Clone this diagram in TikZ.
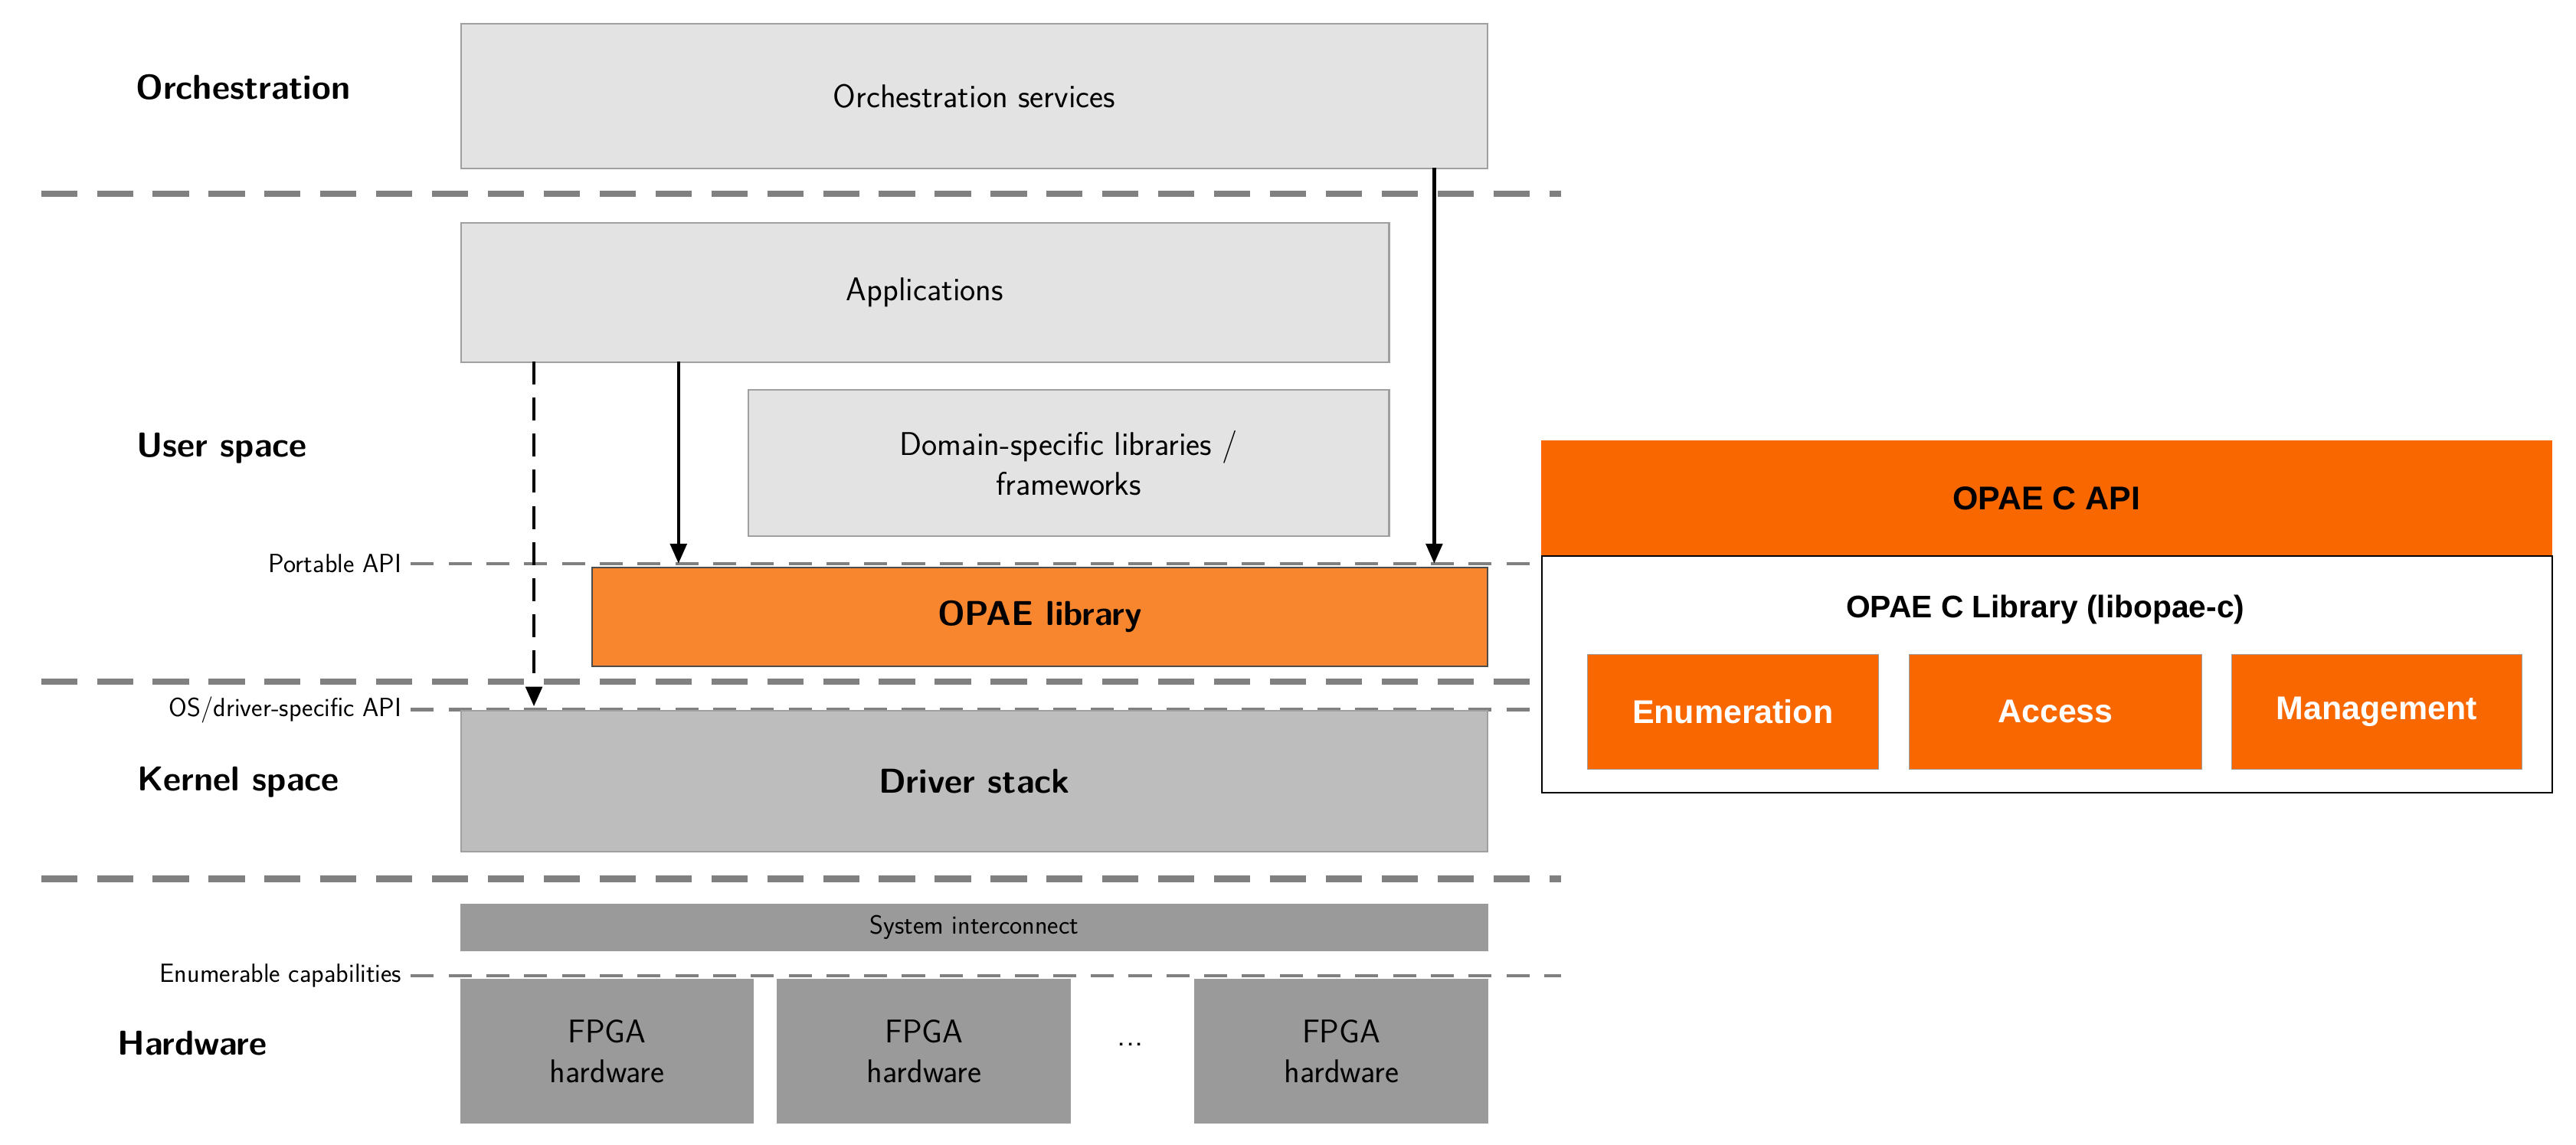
\documentclass[tikz,border=0pt]{standalone}
\usepackage{fontspec}
\newfontfamily\arial{Liberation Sans}
\usetikzlibrary{arrows.meta}
\definecolor{lg}{HTML}{E3E3E3}
\definecolor{mg}{HTML}{BDBDBD}
\definecolor{dg}{HTML}{9A9A9A}
\definecolor{bd}{HTML}{A0A0A0}
\definecolor{or1}{HTML}{F7862E}
\definecolor{or2}{HTML}{F96700}
\begin{document}
\begin{tikzpicture}[x=1pt,y=-1pt,
  box/.style={draw=bd,line width=1pt,font=\sffamily\fontsize{20}{24}\selectfont},
  lab/.style={font=\sffamily\bfseries\fontsize{21}{25}\selectfont},
  sm/.style={font=\sffamily\fontsize{16}{19}\selectfont,anchor=east},
  thick dash/.style={draw=gray,line width=4pt,dash pattern=on 22pt off 12pt},
  thin dash/.style={draw=gray,line width=2pt,dash pattern=on 14pt off 9pt},
  sub/.style={draw=bd,fill=or2,text=white,font=\arial\bfseries\fontsize{20}{24}\selectfont},
  arr/.style={line width=2pt,-{Triangle[length=12pt,width=10pt]}}]
\useasboundingbox (0,0) rectangle (1568,697);
% labels
\node[lab] (lo) at (148,53) {Orchestration};
\node[lab] (lu) at (135,273) {User space};
\node[lab] (lk) at (145,476) {Kernel space};
\node[lab] (lh) at (117,635) {Hardware};
\node[sm] (pa) at (248,343) {Portable API};
\node[sm] (os) at (248,432) {OS/driver-specific API};
\node[sm] (ec) at (248,594) {Enumerable capabilities};
% dashed lines
\draw[thick dash] (25,118) -- (950,118);
\draw[thick dash] (25,415) -- (950,415);
\draw[thick dash] (25,535) -- (950,535);
\draw[thin dash] (250,343) -- (938,343);
\draw[thin dash] (250,432) -- (938,432);
\draw[thin dash] (250,594) -- (950,594);
% boxes
\node[box,fill=lg,minimum width=625,minimum height=88,anchor=north west] (orc) at (280,14) {Orchestration services};
\node[box,fill=lg,minimum width=565,minimum height=85,anchor=north west] (app) at (280,135) {Applications};
\node[box,fill=lg,minimum width=390,minimum height=89,anchor=north west,align=center] (dom) at (455,237) {Domain-specific libraries /\\frameworks};
\node[box,fill=or1,draw=black!70,minimum width=545,minimum height=60,anchor=north west,font=\sffamily\bfseries\fontsize{21}{25}\selectfont] (opae) at (360,345) {OPAE library};
\node[box,fill=mg,minimum width=625,minimum height=86,anchor=north west,font=\sffamily\bfseries\fontsize{21}{25}\selectfont] (drv) at (280,432) {Driver stack};
\node[box,fill=dg,draw=dg,minimum width=625,minimum height=28,anchor=north west,font=\sffamily\fontsize{16}{19}\selectfont] (sys) at (280,550) {System interconnect};
\foreach \n/\x in {f1/280,f2/473,f3/727}
  \node[box,fill=dg,draw=dg,minimum width=178,minimum height=87,anchor=north west,align=center] (\n) at (\x,596) {FPGA\\hardware};
\node[font=\sffamily\fontsize{20}{24}\selectfont] (dots) at (688,636) {...};
% arrows
\coordinate (a1s) at (325,220); \coordinate (a1e) at (325,430);
\coordinate (a2s) at (413,220); \coordinate (a2e) at (413,343);
\coordinate (a3s) at (873,102); \coordinate (a3e) at (873,343);
\draw[arr,dash pattern=on 14pt off 8pt] (a1s) -- (a1e);
\draw[arr] (a2s) -- (a2e);
\draw[arr] (a3s) -- (a3e);
% right panel
\node[fill=or2,draw=or2,minimum width=615,minimum height=70,anchor=north west,font=\arial\bfseries\fontsize{20}{24}\selectfont] (api) at (938,268) {OPAE C API};
\node[draw=black,line width=1pt,fill=white,minimum width=615,minimum height=144,anchor=north west] (lib) at (938,338) {};
\node[font=\arial\bfseries\fontsize{19}{23}\selectfont] (libt) at (1245,371) {OPAE C Library (libopae-c)};
\node[sub,minimum width=177,minimum height=70,anchor=north west] (en) at (966,398) {Enumeration};
\node[sub,minimum width=178,minimum height=70,anchor=north west] (ac) at (1162,398) {Access};
\node[sub,minimum width=177,minimum height=70,anchor=north west] (mg) at (1358,398) {Management};
\end{tikzpicture}
\end{document}
